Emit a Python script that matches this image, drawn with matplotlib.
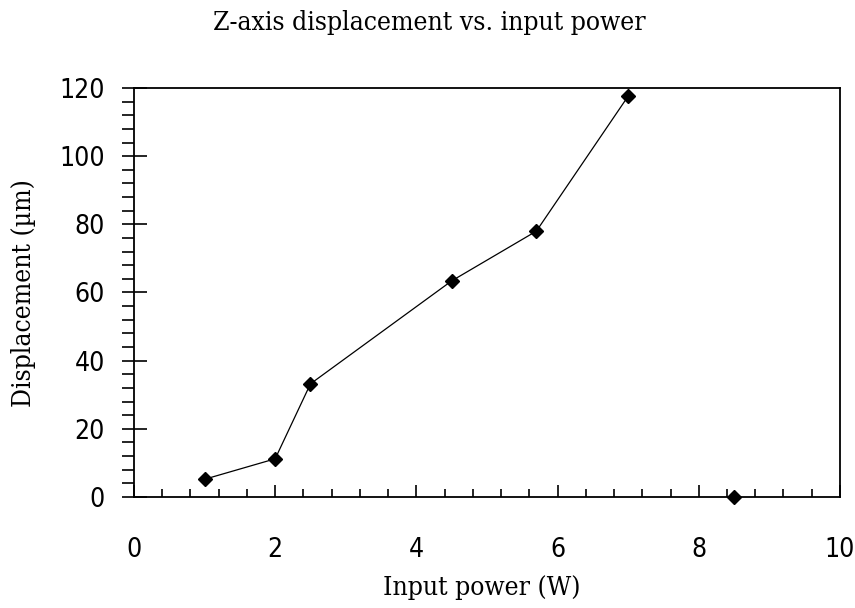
import matplotlib
matplotlib.use('Agg')
import matplotlib.pyplot as plt
from matplotlib import font_manager
from matplotlib.ticker import MultipleLocator

# values
power_w = [1.0, 2.0, 2.5, 4.5, 5.7, 7.0]
displacement_um = [5.2, 11.2, 33.2, 63.4, 78.0, 117.6]
# lone point at the right, not joined to the line
extra_power_w = [8.5]
extra_displacement_um = [0.0]

title = 'Z-axis displacement vs. input power'
xlabel = 'Input power (W)'
ylabel = 'Displacement (\u00b5m)'


def has_condensed(name):
    return any(f.name == name and 'condensed' in str(f.stretch)
               for f in font_manager.fontManager.ttflist)


# the reference uses narrow glyphs; use condensed DejaVu when it is there
if has_condensed('DejaVu Serif'):
    serif = dict(family='DejaVu Serif', fontstretch='condensed')
else:
    serif = dict(family='Liberation Serif')
if has_condensed('DejaVu Sans'):
    sans = dict(family='DejaVu Sans', fontstretch='condensed', fontweight='light')
else:
    sans = dict(family='Liberation Sans')

fig = plt.figure(figsize=(8.55, 6.08), dpi=100)
ax = fig.add_axes([0.1567, 0.1826, 0.8257, 0.6727])

ax.plot(power_w, displacement_um, color='black', lw=0.9,
        marker='D', ms=7, mfc='black', mec='black')
ax.plot(extra_power_w, extra_displacement_um, ls='none', color='black',
        marker='D', ms=7, clip_on=False)

ax.set_xlim(0, 10)
ax.set_ylim(0, 120)

ax.xaxis.set_major_locator(MultipleLocator(2))
ax.xaxis.set_minor_locator(MultipleLocator(0.4))
ax.yaxis.set_major_locator(MultipleLocator(20))
ax.yaxis.set_minor_locator(MultipleLocator(4))

ax.tick_params(axis='x', which='major', direction='in', length=9, width=1.2,
               pad=29, labelsize=19, top=False)
ax.tick_params(axis='x', which='minor', direction='in', length=6, width=1.2, top=False)
ax.tick_params(axis='y', which='major', direction='inout', length=18, width=1.2,
               pad=12, labelsize=19, right=False)
ax.tick_params(axis='y', which='minor', direction='out', length=9, width=1.2, right=False)

for lab in ax.get_xticklabels() + ax.get_yticklabels():
    lab.set(**sans)

for sp in ax.spines.values():
    sp.set_linewidth(1.3)
    sp.set_color('black')

fig.text(0.502, 0.963, title, ha='center', va='center', fontsize=19, **serif)
ax.set_xlabel(xlabel, fontsize=19, va='center', **serif)
ax.xaxis.set_label_coords(0.493, -0.2225)
ax.set_ylabel(ylabel, fontsize=19, va='center', **serif)
ax.yaxis.set_label_coords(-0.156, 0.499)

fig.savefig('out.png', dpi=100)
